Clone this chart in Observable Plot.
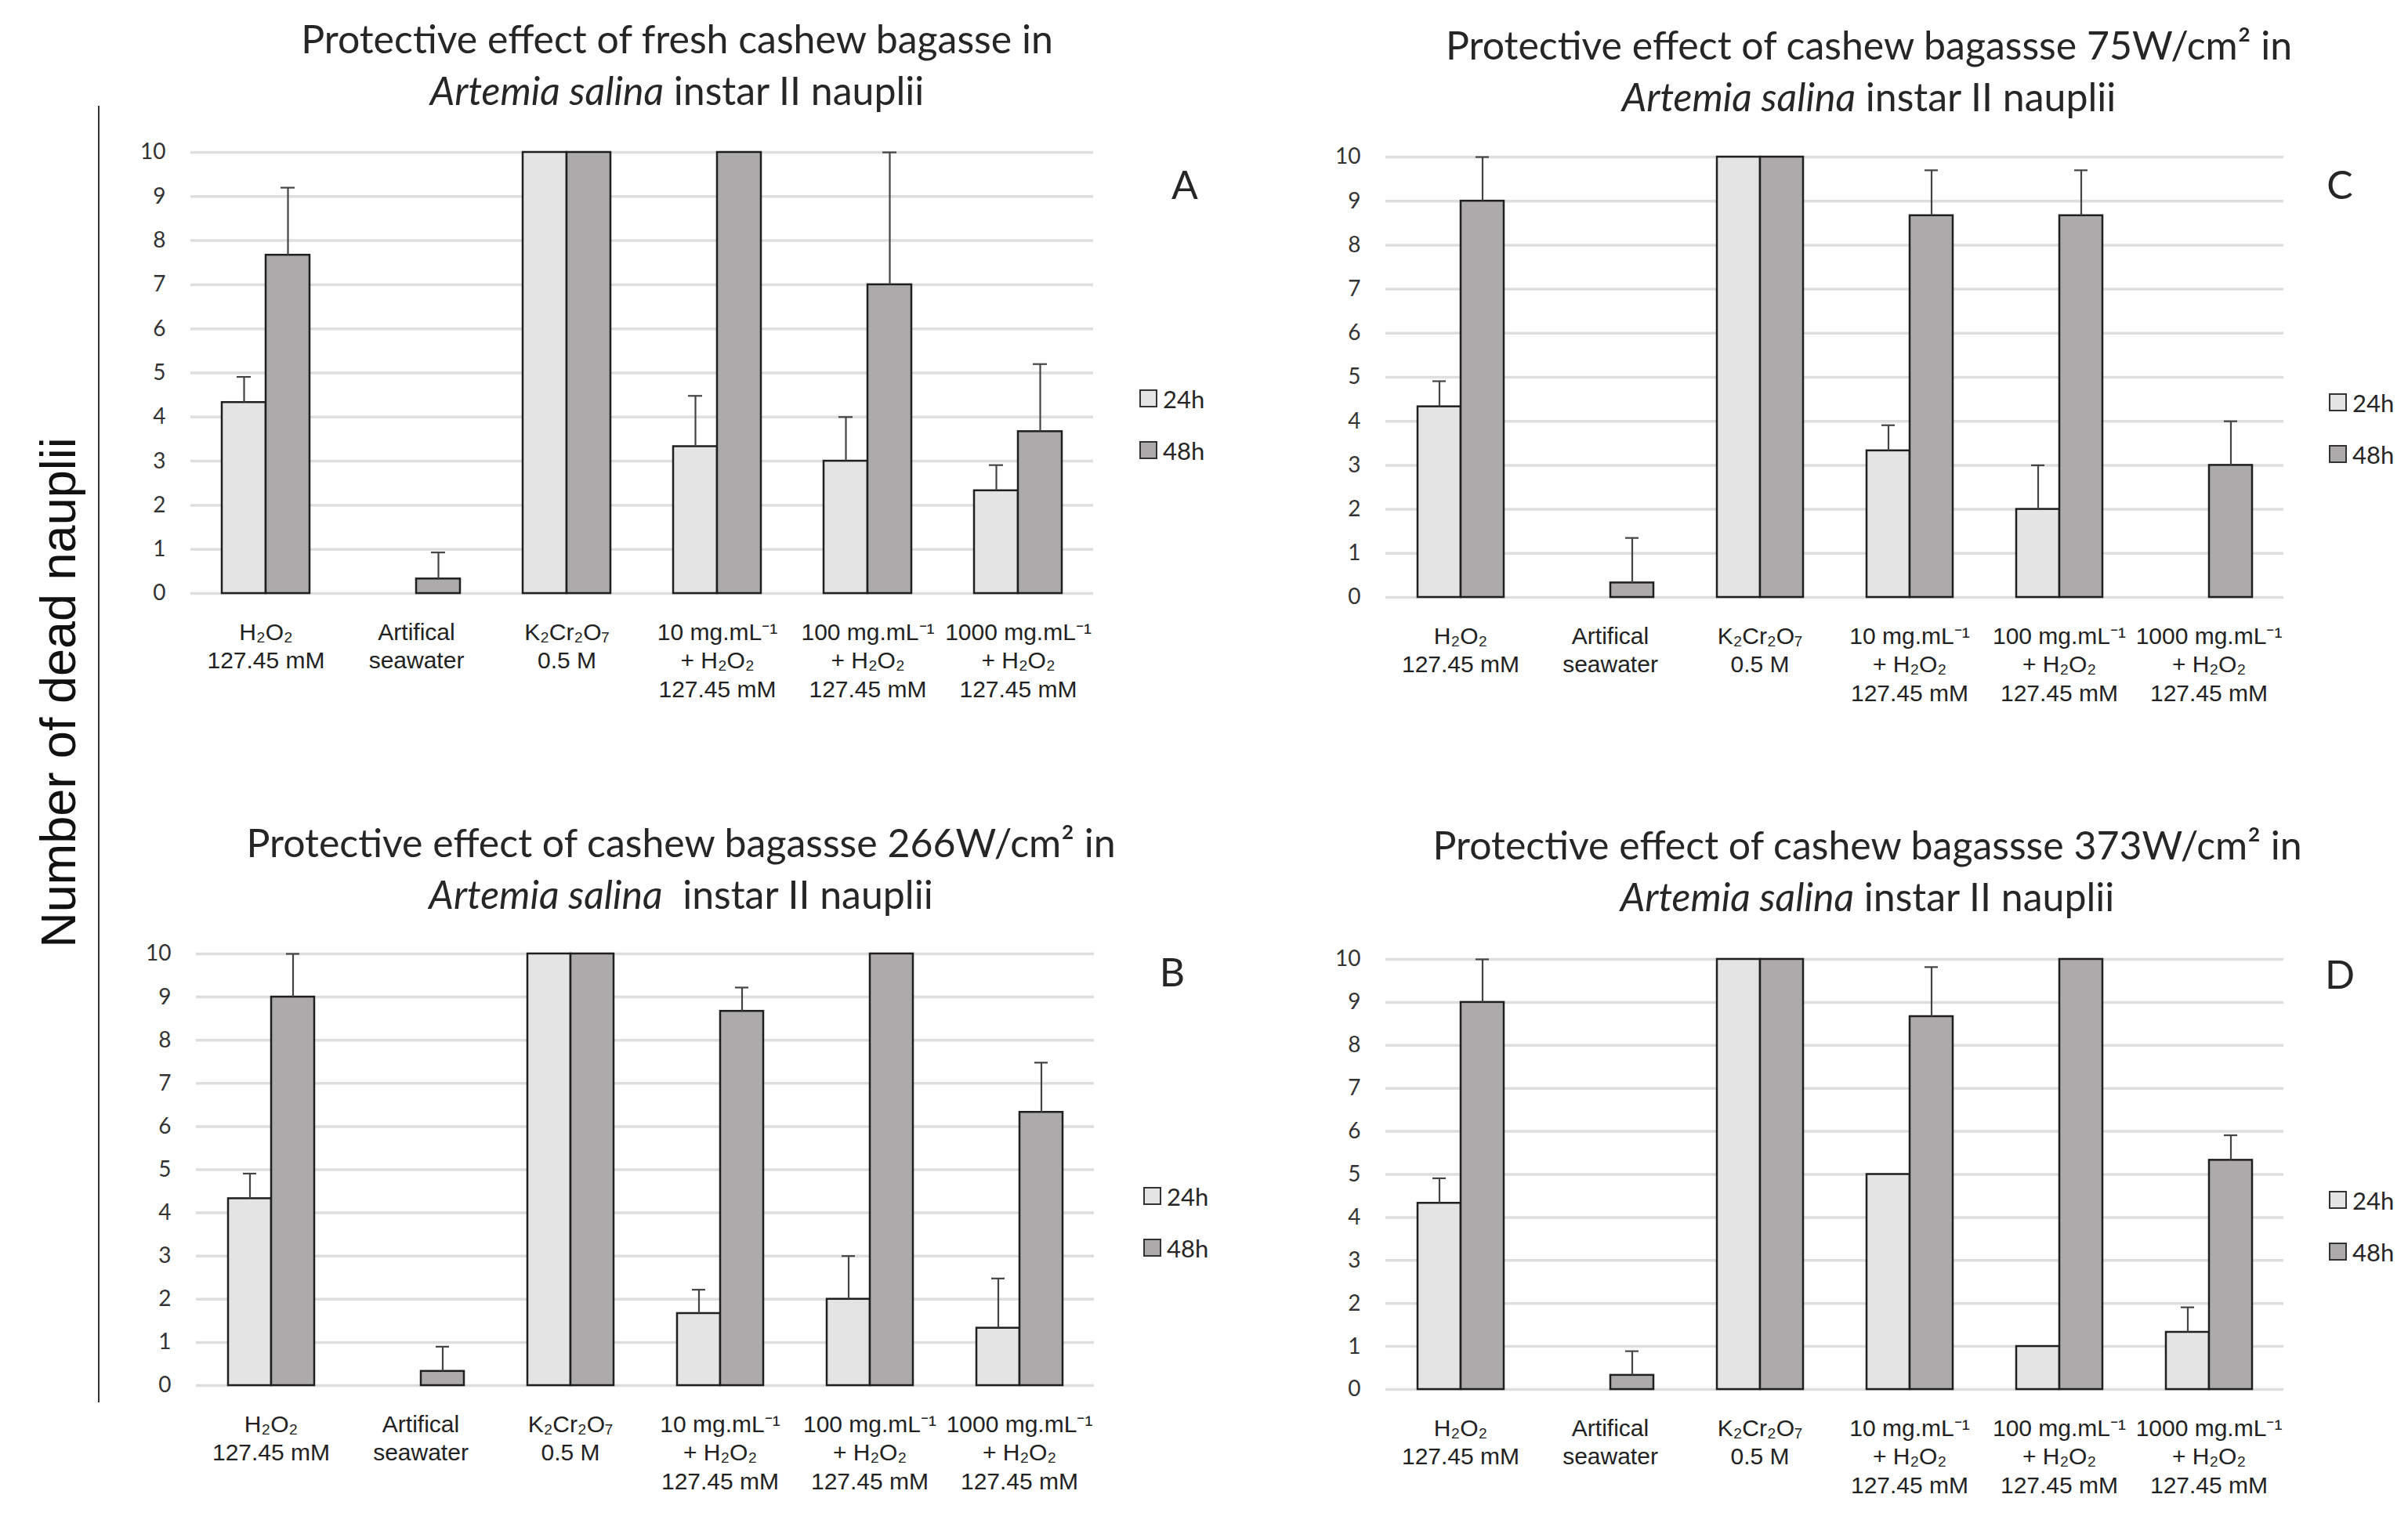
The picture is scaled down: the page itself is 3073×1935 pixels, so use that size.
<!DOCTYPE html>
<html>
<head>
<meta charset="utf-8">
<script src="https://cdn.jsdelivr.net/npm/d3@7"></script>
<script src="https://cdn.jsdelivr.net/npm/@observablehq/plot@0.6"></script>
<style>
  html, body { margin: 0; padding: 0; background: #fff; }
  #page { position: relative; width: 3073px; height: 1935px; background: #fff; overflow: hidden; }
  .title { position: absolute; transform: translateX(-50%); white-space: nowrap; text-align: center;
           font-family: Lato, "Noto Sans", sans-serif; font-size: 50px; line-height: 66px; color: #262626; }
  .letter { position: absolute; transform: translate(-50%, -50%); font-family: Lato, sans-serif; font-size: 50px; color: #262626; }
  .legend { position: absolute; font-family: Lato, sans-serif; font-size: 31px; color: #262626; }
  .legend .row { display: flex; align-items: center; height: 33px; margin-bottom: 33px; }
  .legend .sw { width: 19px; height: 19px; border: 2px solid #333; margin-right: 7px; }
  .panel { position: absolute; }
  #ylab { position: absolute; left: 74px; top: 884px; transform: translate(-50%, -50%) rotate(-90deg);
          font-family: "Liberation Sans", Arial, sans-serif; font-size: 63px; white-space: nowrap; color: #111; }
  #vline { position: absolute; left: 125px; top: 135px; width: 2px; height: 1655px; background: #333; }
</style>
</head>
<body>
<div id="page">
  <div id="ylab">Number of dead nauplii</div>
  <div id="vline"></div>
</div>
<script>
// ---------- data ----------
const categories = [
  "H₂O₂\n127.45 mM",
  "Artifical\nseawater",
  "K₂Cr₂O₇\n0.5 M",
  "10 mg.mL⁻¹\n+ H₂O₂\n127.45 mM",
  "100 mg.mL⁻¹\n+ H₂O₂\n127.45 mM",
  "1000 mg.mL⁻¹\n+ H₂O₂\n127.45 mM"
];
const seriesNames = ["24h", "48h"];
const yTicks = [0, 1, 2, 3, 4, 5, 6, 7, 8, 9, 10];

// Panel A – fresh cashew bagasse
const A_24 = [4.33, 0, 10, 3.33, 3, 2.33];
const A_24_sd = [0.58, 0, 0, 1.15, 1, 0.58];
const A_48 = [7.67, 0.33, 10, 10, 7, 3.67];
const A_48_sd = [1.53, 0.6, 0, 0, 3, 1.53];

// Panel B – 266 W/cm²
const B_24 = [4.33, 0, 10, 1.67, 2, 1.33];
const B_24_sd = [0.58, 0, 0, 0.55, 1, 1.15];
const B_48 = [9, 0.33, 10, 8.67, 10, 6.33];
const B_48_sd = [1, 0.57, 0, 0.55, 0, 1.15];

// Panel C – 75 W/cm²
const C_24 = [4.33, 0, 10, 3.33, 2, 0];
const C_24_sd = [0.58, 0, 0, 0.58, 1, 0];
const C_48 = [9, 0.33, 10, 8.67, 8.67, 3];
const C_48_sd = [1, 1.02, 0, 1.03, 1.03, 1];

// Panel D – 373 W/cm²
const D_24 = [4.33, 0, 10, 5, 1, 1.33];
const D_24_sd = [0.58, 0, 0, 0, 0, 0.58];
const D_48 = [9, 0.33, 10, 8.67, 10, 5.33];
const D_48_sd = [1, 0.56, 0, 1.15, 0, 0.58];

const titles = {
  A: ["Protective effect of fresh cashew bagasse in", "<i>Artemia salina</i> instar II nauplii"],
  B: ["Protective effect of cashew bagassse 266W/cm² in", "<i>Artemia salina</i>&nbsp; instar II nauplii"],
  C: ["Protective effect of cashew bagassse 75W/cm² in", "<i>Artemia salina</i> instar II nauplii"],
  D: ["Protective effect of cashew bagassse 373W/cm² in", "<i>Artemia salina</i> instar II nauplii"]
};

// ---------- layout ----------
const layout = {
  A: {left: 0, top: 0, width: 1420, ml: 241, mr: 24, mt: 194, y0: 757,
      title: [864, 16], letter: [1512, 235], legend: [1454, 492]},
  C: {left: 1530, top: 0, width: 1410, ml: 238, mr: 26, mt: 200, y0: 762,
      title: [2385, 24], letter: [2986, 235], legend: [2972, 497]},
  B: {left: 0, top: 960, width: 1420, ml: 248, mr: 22, mt: 257, y0: 808,
      title: [869, 1042], letter: [1496, 1240], legend: [1459, 1510]},
  D: {left: 1530, top: 960, width: 1410, ml: 238, mr: 26, mt: 264, y0: 813,
      title: [2383, 1045], letter: [2986, 1243], legend: [2972, 1515]}
};

const panelData = {
  A: [A_24, A_24_sd, A_48, A_48_sd],
  B: [B_24, B_24_sd, B_48, B_48_sd],
  C: [C_24, C_24_sd, C_48, C_48_sd],
  D: [D_24, D_24_sd, D_48, D_48_sd]
};

const colors = ["#e4e4e4", "#acaaaa"];
const page = document.getElementById("page");

for (const key of ["A", "B", "C", "D"]) {
  const L = layout[key];
  const [v24, s24, v48, s48] = panelData[key];
  const rows = [];
  categories.forEach((c, i) => {
    rows.push({category: c, series: "24h", value: v24[i], sd: s24[i]});
    rows.push({category: c, series: "48h", value: v48[i], sd: s48[i]});
  });
  const mb = 175;
  const chart = Plot.plot({
    width: L.width,
    height: L.y0 + mb,
    marginLeft: L.ml,
    marginRight: L.mr,
    marginTop: L.mt,
    marginBottom: mb,
    style: {fontFamily: "Lato, sans-serif", fontSize: "28px", color: "#333", background: "transparent"},
    fx: {domain: categories, padding: 0, label: null, axis: null},
    x: {domain: seriesNames, paddingInner: 0, paddingOuter: 0.714, axis: null},
    y: {domain: [0, 10], ticks: yTicks, tickSize: 0, tickPadding: 32, label: null, tickFormat: d3.format("d")},
    color: {domain: seriesNames, range: colors},
    marks: [
      Plot.gridY(yTicks, {stroke: "#dedede", strokeOpacity: 1, strokeWidth: 3.5}),
      Plot.axisFx({anchor: "bottom", tickSize: 0, tickPadding: 33, label: null, fontSize: 30, lineHeight: 1.22,
                   fontFamily: "'Liberation Sans', Arial, sans-serif", fill: "#222"}),
      Plot.barY(rows.filter(d => d.value > 0), {fx: "category", x: "series", y: "value", fill: "series", stroke: "#1f1f1f", strokeWidth: 2.5}),
      Plot.ruleX(rows.filter(d => d.sd > 0), {fx: "category", x: "series", y1: "value", y2: d => d.value + d.sd, stroke: "#444", strokeWidth: 2.2}),
      Plot.tickY(rows.filter(d => d.sd > 0), {fx: "category", x: "series", y: d => d.value + d.sd, stroke: "#444", strokeWidth: 2.2, insetLeft: 19, insetRight: 19})
    ]
  });
  const wrap = document.createElement("div");
  wrap.className = "panel";
  wrap.style.left = L.left + "px";
  wrap.style.top = L.top + "px";
  wrap.appendChild(chart);
  page.appendChild(wrap);

  const t = document.createElement("div");
  t.className = "title";
  t.style.left = L.title[0] + "px";
  t.style.top = L.title[1] + "px";
  t.innerHTML = titles[key].join("<br>");
  page.appendChild(t);

  const lt = document.createElement("div");
  lt.className = "letter";
  lt.style.left = L.letter[0] + "px";
  lt.style.top = L.letter[1] + "px";
  lt.textContent = key;
  page.appendChild(lt);

  const lg = document.createElement("div");
  lg.className = "legend";
  lg.style.left = L.legend[0] + "px";
  lg.style.top = L.legend[1] + "px";
  lg.innerHTML = seriesNames.map((s, i) =>
    `<div class="row"><div class="sw" style="background:${colors[i]}"></div><span>${s}</span></div>`).join("");
  page.appendChild(lg);
}
</script>
</body>
</html>
